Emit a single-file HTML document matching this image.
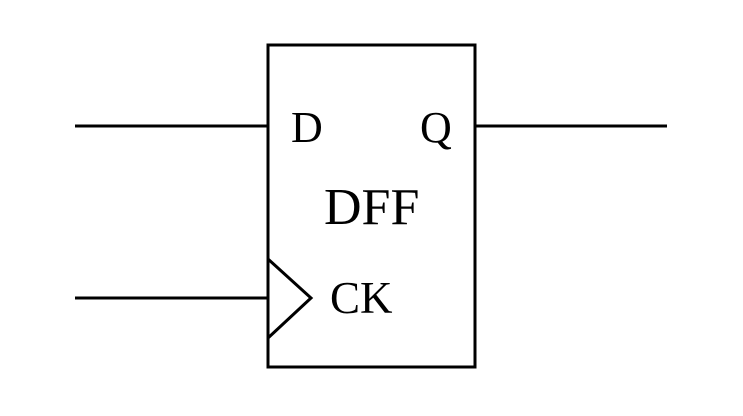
<!DOCTYPE html>
<html><head><style>body{margin:0;background:#fff}svg{display:block}</style></head><body>
<svg width="743" height="416" viewBox="0 0 743 416" xmlns="http://www.w3.org/2000/svg">
<g stroke="#000" stroke-width="3" fill="none">
<rect x="268" y="45" width="207" height="322"/>
<line x1="75" y1="126" x2="268" y2="126"/>
<line x1="475" y1="126" x2="667" y2="126"/>
<line x1="75" y1="298" x2="268" y2="298"/>
<polyline points="268,259 311,298 268,338"/>
</g>
<g font-family="'Liberation Serif', serif" fill="#000">
<text x="291" y="142" font-size="44">D</text>
<text x="420" y="142" font-size="44">Q</text>
<text x="324" y="224" font-size="52">DFF</text>
<text x="330" y="313" font-size="45">CK</text>
</g>
</svg>
</body></html>
